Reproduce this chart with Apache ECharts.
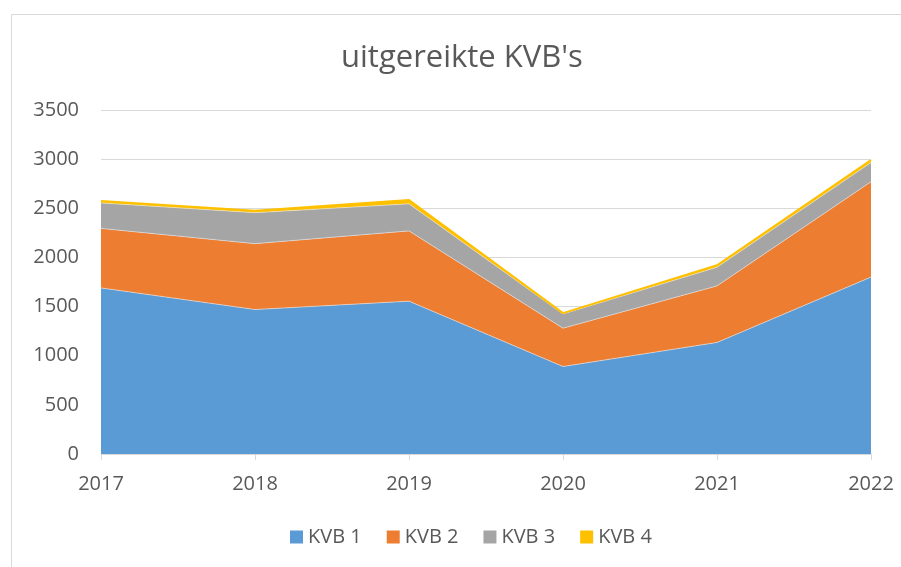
<!DOCTYPE html>
<html>
<head>
<meta charset="utf-8">
<script src="https://cdn.jsdelivr.net/npm/echarts@6/dist/echarts.min.js"></script>
<style>
  html, body { margin: 0; padding: 0; background: #fff; }
</style>
</head>
<body>
<div id="mychart" style="width: 901px; height: 567px"></div>
<script>
  const years = ["2017", "2018", "2019", "2020", "2021", "2022"];
  const kvb1 = [1690, 1470, 1555, 890, 1135, 1800];
  const kvb2 = [605, 670, 715, 390, 575, 970];
  const kvb3 = [260, 315, 275, 145, 190, 195];
  const kvb4 = [20, 20, 40, 8, 20, 25];

  const colors = ["#5b9bd5", "#ed7d31", "#a5a5a5", "#ffc000"];
  const font = "'Open Sans', sans-serif";

  var chart = echarts.init(document.getElementById("mychart"));

  function areaSeries(name, data, idx) {
    return {
      name: name,
      type: "line",
      stack: "total",
      data: data,
      showSymbol: false,
      areaStyle: { color: colors[idx], opacity: 1 },
      lineStyle: { color: idx === 3 ? colors[3] : "#e8e8e8", width: idx === 3 ? 2 : 0.6 },
      itemStyle: { color: colors[idx] },
      emphasis: { disabled: true },
    };
  }

  var option = {
    animation: false,
    color: colors,
    graphic: [
      {
        type: "rect",
        shape: { x: 11.5, y: 14.5, width: 900, height: 560 },
        style: { fill: "none", stroke: "#d9d9d9", lineWidth: 1 },
      },
    ],
    title: {
      text: "uitgereikte KVB's",
      left: 336,
      top: 38,
      textStyle: { fontFamily: font, fontSize: 31, fontWeight: "normal", color: "#595959" },
    },
    legend: {
      data: ["KVB 1", "KVB 2", "KVB 3", "KVB 4"],
      top: 522,
      left: 285,
      icon: "rect",
      itemWidth: 13,
      itemHeight: 13,
      itemGap: 25,
      textStyle: { fontFamily: font, fontSize: 20, color: "#595959" },
    },
    grid: { left: 101, right: 30, top: 110, bottom: 113 },
    xAxis: {
      type: "category",
      boundaryGap: false,
      data: years,
      axisLine: { lineStyle: { color: "#d9d9d9", width: 1 } },
      axisTick: { show: true, length: 6, lineStyle: { color: "#d9d9d9" } },
      axisLabel: { margin: 20, fontFamily: font, fontSize: 20, color: "#595959" },
    },
    yAxis: {
      type: "value",
      min: 0,
      max: 3500,
      interval: 500,
      axisLine: { show: false },
      axisTick: { show: false },
      axisLabel: {
        margin: 22,
        formatter: function (v) { return String(v); },
        fontFamily: font,
        fontSize: 20,
        color: "#595959",
      },
      splitLine: { lineStyle: { color: "#d9d9d9", width: 1 } },
    },
    series: [
      areaSeries("KVB 1", kvb1, 0),
      areaSeries("KVB 2", kvb2, 1),
      areaSeries("KVB 3", kvb3, 2),
      areaSeries("KVB 4", kvb4, 3),
    ],
  };

  option && chart.setOption(option);
</script>
</body>
</html>
